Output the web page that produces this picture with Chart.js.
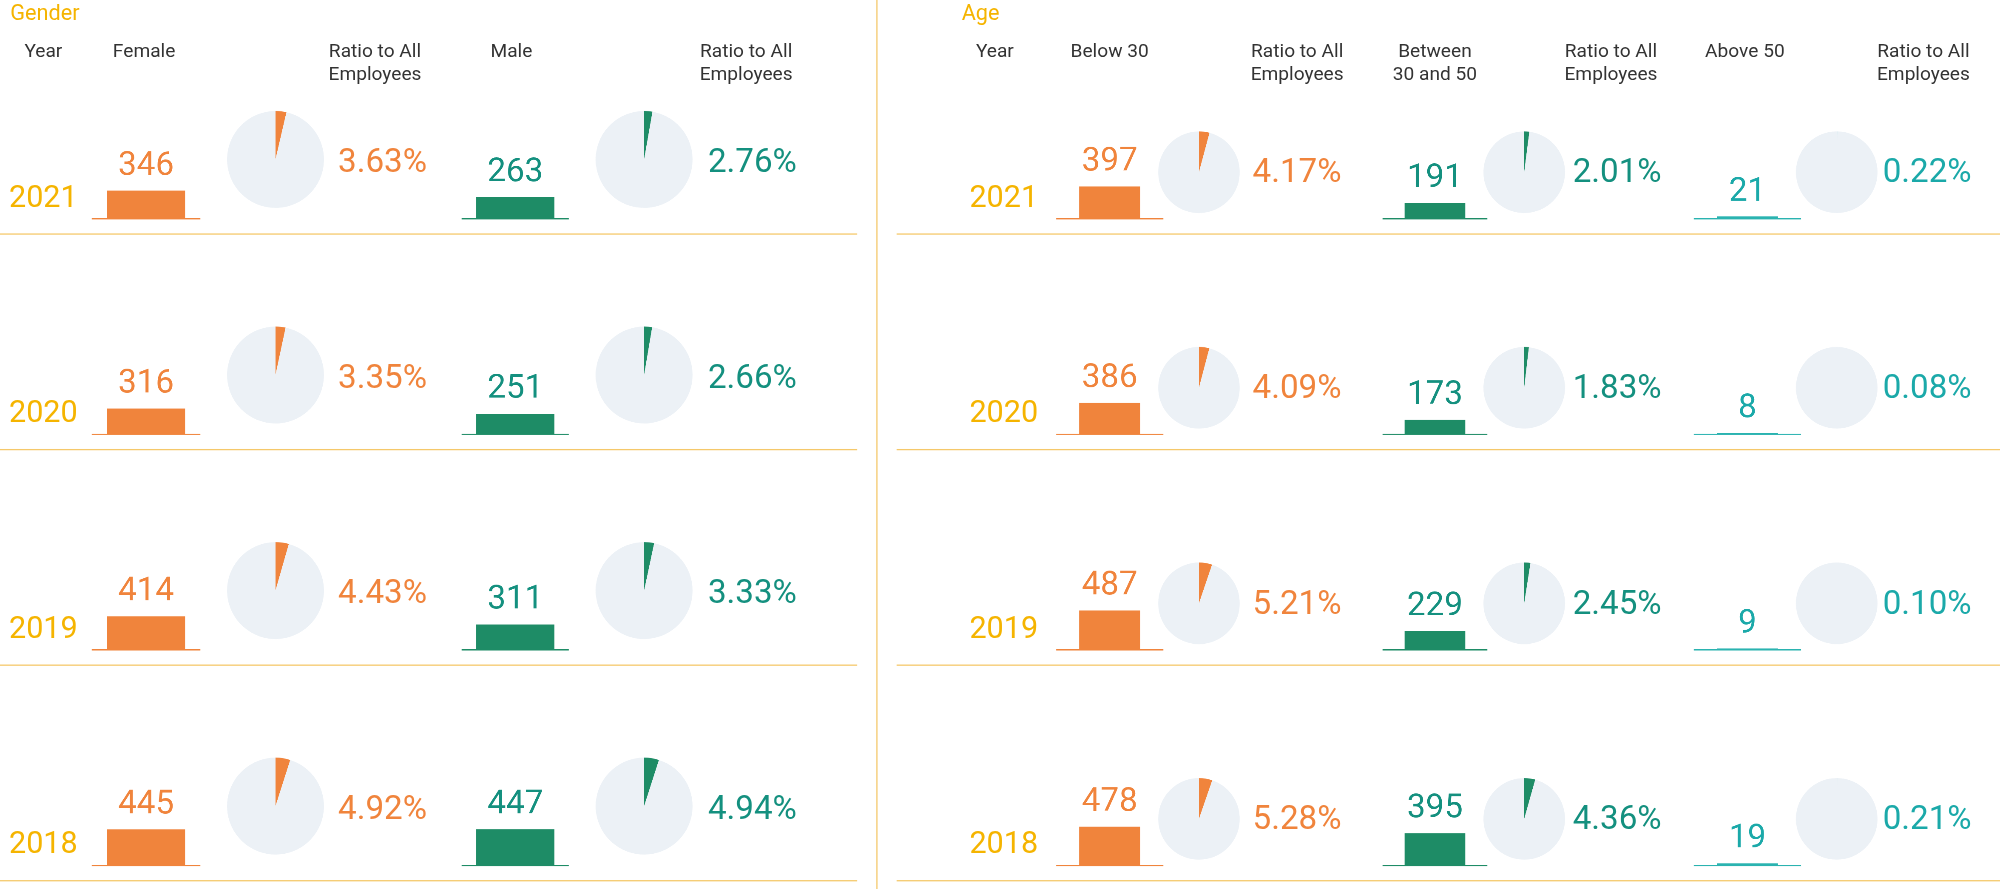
<!DOCTYPE html>
<html><head><meta charset="utf-8">
<script src="https://cdn.jsdelivr.net/npm/chart.js@4"></script>
<style>
html,body{margin:0;padding:0;background:#fff;overflow:hidden}
#stage{position:absolute;left:0;top:0;width:1568px;height:697px;transform:scale(1.2755);transform-origin:0 0;font-family:"Liberation Sans Narrow","Roboto",sans-serif}
.t{position:absolute;white-space:nowrap}
.h{color:#333;font-size:15px;line-height:18px;text-align:center}
.sec{color:#F5B400;font-size:17px}
.yr{color:#F5B400;font-size:24px}
.pct{font-size:26px}
.ln{position:absolute;background:#F5C86A}
.cv{position:absolute}
</style></head><body><div id="stage"></div>
<script>
const years = ["2021","2020","2019","2018"];
const female = [346,316,414,445];
const femaleRatio = [3.63,3.35,4.43,4.92];
const male = [263,251,311,447];
const maleRatio = [2.76,2.66,3.33,4.94];
const below30 = [397,386,487,478];
const below30Ratio = [4.17,4.09,5.21,5.28];
const between30and50 = [191,173,229,395];
const betweenRatio = [2.01,1.83,2.45,4.36];
const above50 = [21,8,9,19];
const above50Ratio = [0.22,0.08,0.10,0.21];

const ORANGE="#F0843C", GREEN="#1E8C66", GTEXT="#14907F", TEAL="#2AB3B0", TTEXT="#1BA9A9", PIEBG="#ECF1F6";
const stage=document.getElementById('stage');
const ROW=169;
function el(cls,x,y,html,extra){const d=document.createElement('div');d.className=cls;d.style.left=x+'px';d.style.top=y+'px';d.innerHTML=html;if(extra)Object.assign(d.style,extra);stage.appendChild(d);return d;}
function canvas(x,y,w,h){const c=document.createElement('canvas');c.className='cv';c.style.left=x+'px';c.style.top=y+'px';c.style.width=w+'px';c.style.height=h+'px';const wrap=document.createElement('div');wrap.style.cssText=`position:absolute;left:${x}px;top:${y}px;width:${w}px;height:${h}px`;c.style.left='0';c.style.top='0';wrap.appendChild(c);stage.appendChild(wrap);return c;}

const labelPlugin={id:'lbl',afterDatasetsDraw(ch){const ctx=ch.ctx;const o=ch.options.plugins.lbl;const m=ch.getDatasetMeta(0).data[0];const ca=ch.chartArea;
 ctx.save();ctx.strokeStyle=o.line;ctx.lineWidth=1;ctx.beginPath();ctx.moveTo(ca.left,ca.bottom+0.5);ctx.lineTo(ca.right,ca.bottom+0.5);ctx.stroke();
 ctx.fillStyle=o.color;ctx.font='26px "Liberation Sans Narrow", Roboto, sans-serif';ctx.textAlign='center';ctx.textBaseline='bottom';
 ctx.fillText(String(ch.data.datasets[0].data[0]),m.x,m.y-6);ctx.restore();}};

function bar(x,yBase,w,val,color,textColor,bp){
 const H=110;const c=canvas(x,yBase-H,w,H+1);
 new Chart(c,{type:'bar',data:{labels:[''],datasets:[{data:[val],backgroundColor:color,barPercentage:bp,categoryPercentage:1}]},
 options:{responsive:false,animation:false,devicePixelRatio:3,layout:{padding:{bottom:1}},
  scales:{x:{display:false},y:{display:false,min:0,max:1760}},
  plugins:{legend:{display:false},tooltip:{enabled:false},lbl:{color:textColor,line:color}}},plugins:[labelPlugin]});
}
function pie(cx,cy,r,pct,color){
 const c=canvas(cx-r,cy-r,2*r,2*r);
 new Chart(c,{type:'pie',data:{labels:['a','b'],datasets:[{data:[pct,100-pct],backgroundColor:[color,PIEBG],borderWidth:0}]},
 options:{responsive:false,animation:false,devicePixelRatio:3,plugins:{legend:{display:false},tooltip:{enabled:false}}}});
}

// structure lines
const vl=document.createElement('div');vl.className='ln';Object.assign(vl.style,{left:'687px',top:'0',width:'1px',height:'697px'});stage.appendChild(vl);
// headers
el('t sec',8,0,'Gender');el('t sec',754,0,'Age');
function hdr(cx,txt){el('t h',cx-60,31,txt,{width:'120px'});}
hdr(34,'Year');hdr(113,'Female');hdr(294,'Ratio to All<br>Employees');hdr(401,'Male');hdr(585,'Ratio to All<br>Employees');
hdr(780,'Year');hdr(870,'Below 30');hdr(1017,'Ratio to All<br>Employees');hdr(1125,'Between<br>30 and 50');hdr(1263,'Ratio to All<br>Employees');hdr(1368,'Above 50');hdr(1508,'Ratio to All<br>Employees');

years.forEach((y,i)=>{
 const o=i*ROW;
 const l1=document.createElement('div');l1.className='ln';Object.assign(l1.style,{left:'0',top:(183+o)+'px',width:'672px',height:'1px'});stage.appendChild(l1);
 const l2=document.createElement('div');l2.className='ln';Object.assign(l2.style,{left:'703px',top:(183+o)+'px',width:'865px',height:'1px'});stage.appendChild(l2);
 el('t yr',7,140+o,y);el('t yr',760,140+o,y);
 const base=171+o;
 bar(72,base,85,female[i],ORANGE,ORANGE,0.72);
 pie(216,125+o,38,femaleRatio[i],ORANGE);
 el('t pct',265,111+o,femaleRatio[i].toFixed(2)+'%',{color:ORANGE});
 bar(362,base,84,male[i],GREEN,GTEXT,0.73);
 pie(505,125+o,38,maleRatio[i],GREEN);
 el('t pct',555,111+o,maleRatio[i].toFixed(2)+'%',{color:GTEXT});
 bar(828,base,84,below30[i],ORANGE,ORANGE,0.57);
 pie(940,135+o,32,below30Ratio[i],ORANGE);
 el('t pct',982,119+o,below30Ratio[i].toFixed(2)+'%',{color:ORANGE});
 bar(1084,base,82,between30and50[i],GREEN,GTEXT,0.58);
 pie(1195,135+o,32,betweenRatio[i],GREEN);
 el('t pct',1233,119+o,betweenRatio[i].toFixed(2)+'%',{color:GTEXT});
 bar(1328,base,84,above50[i],TEAL,TTEXT,0.57);
 pie(1440,135+o,32,above50Ratio[i],TEAL);
 el('t pct',1476,119+o,above50Ratio[i].toFixed(2)+'%',{color:TTEXT});
});
</script></body></html>
